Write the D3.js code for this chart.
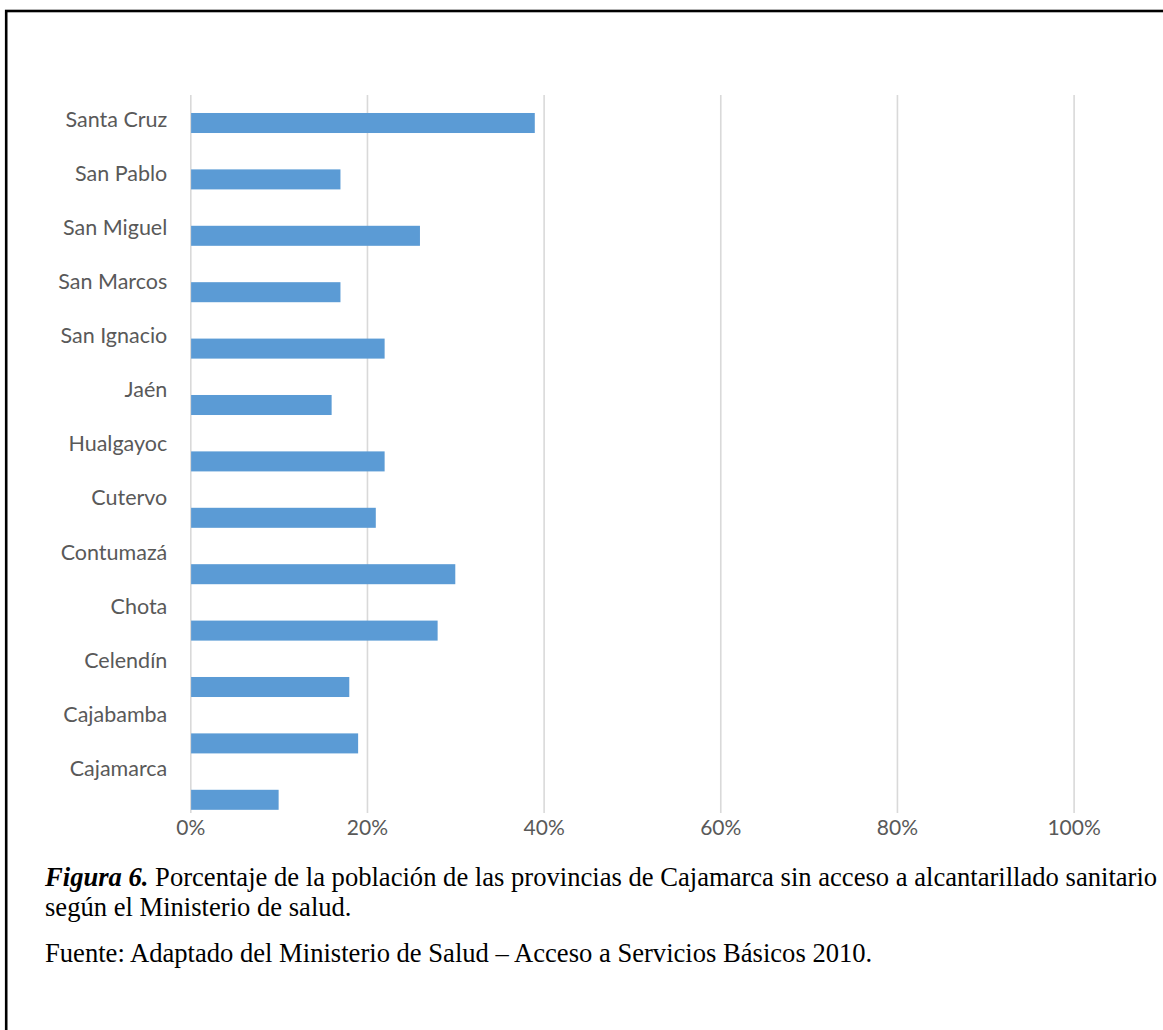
<!DOCTYPE html>
<html>
<head>
<meta charset="utf-8">
<script src="https://cdn.jsdelivr.net/npm/d3@7"></script>
<style>
  body { margin: 0; background: #fff; }
</style>
</head>
<body>
<svg id="chart"></svg>
<script>
// provinces, top to bottom as in the chart
var provincias = ["Santa Cruz", "San Pablo", "San Miguel", "San Marcos", "San Ignacio", "Jaén",
                  "Hualgayoc", "Cutervo", "Contumazá", "Chota", "Celendín", "Cajabamba", "Cajamarca"]
// % sin acceso a alcantarillado
var valores = [39, 17, 26, 17, 22, 16, 22, 21, 30, 28, 18, 19, 10]
var xTicks = [0, 20, 40, 60, 80, 100]

var dimensions = {
    width: 1163,
    height: 1030,
    plotLeft: 190.3,
    plotRight: 1073.6,
    gridTop: 95,
    gridBottom: 813
}

var svg = d3.select("#chart")
            .attr("width", dimensions.width)
            .attr("height", dimensions.height)

svg.append("rect")
    .attr("width", dimensions.width)
    .attr("height", dimensions.height)
    .attr("fill", "#fff")

// frame (cut off on the right and bottom)
svg.append("rect")
    .attr("x", 6.2)
    .attr("y", 11)
    .attr("width", 1300)
    .attr("height", 1200)
    .attr("fill", "none")
    .attr("stroke", "#000")
    .attr("stroke-width", 2.6)

var xScale = d3.scaleLinear()
                .domain([0, 100])
                .range([dimensions.plotLeft, dimensions.plotRight])

// bars sit a little lower than their labels, like in the original
var barScale = d3.scaleBand()
                .domain(provincias)
                .range([94.8, 828])
                .paddingInner(0.645)
                .paddingOuter(0.3225)

var labelScale = d3.scalePoint()
                .domain(provincias)
                .range([119.5, 768.5])

var xAxisgen = d3.axisBottom(xScale)
                .tickValues(xTicks)
                .tickFormat(d => d + "%")
                .tickSizeInner(-(dimensions.gridBottom - dimensions.gridTop))
                .tickSizeOuter(0)
                .tickPadding(7)

var xAxis = svg.append("g")
    .attr("transform", `translate(0,${dimensions.gridBottom})`)
    .call(xAxisgen)
xAxis.select(".domain").remove()
xAxis.selectAll("line")
    .attr("stroke", "#d9d9d9")
    .attr("stroke-width", 1.6)
xAxis.selectAll("text")
    .attr("fill", "#595959")
    .style("font-family", "Lato, 'Open Sans', sans-serif")
    .style("font-size", "21px")

var yAxisgen = d3.axisLeft(labelScale)
                .tickSize(0)
                .tickPadding(23)

var yAxis = svg.append("g")
    .attr("transform", `translate(${dimensions.plotLeft},0)`)
    .call(yAxisgen)
yAxis.select(".domain").remove()
yAxis.selectAll("text")
    .attr("fill", "#595959")
    .style("font-family", "Lato, 'Open Sans', sans-serif")
    .style("font-size", "21.5px")

var datos = provincias.map((p, i) => ({provincia: p, valor: valores[i]}))

svg.selectAll(".bar")
    .data(datos)
    .enter()
    .append("rect")
    .attr("class", "bar")
    .attr("x", xScale(0) + 0.8)
    .attr("y", d => barScale(d.provincia))
    .attr("width", d => xScale(d.valor) - xScale(0) - 0.8)
    .attr("height", barScale.bandwidth())
    .attr("fill", "#5b9bd5")

// caption
var caption = svg.append("g")
    .style("font-family", "'Liberation Serif', 'Times New Roman', serif")
    .style("font-size", "26.6px")
    .attr("fill", "#000")

var linea1 = caption.append("text").attr("x", 45).attr("y", 886)
linea1.append("tspan")
    .style("font-weight", "bold")
    .style("font-style", "italic")
    .text("Figura 6.")
linea1.append("tspan")
    .text(" Porcentaje de la población de las provincias de Cajamarca sin acceso a alcantarillado sanitario")

caption.append("text").attr("x", 45).attr("y", 916)
    .text("según el Ministerio de salud.")

caption.append("text").attr("x", 45).attr("y", 962)
    .text("Fuente: Adaptado del Ministerio de Salud – Acceso a Servicios Básicos 2010.")
</script>
</body>
</html>
